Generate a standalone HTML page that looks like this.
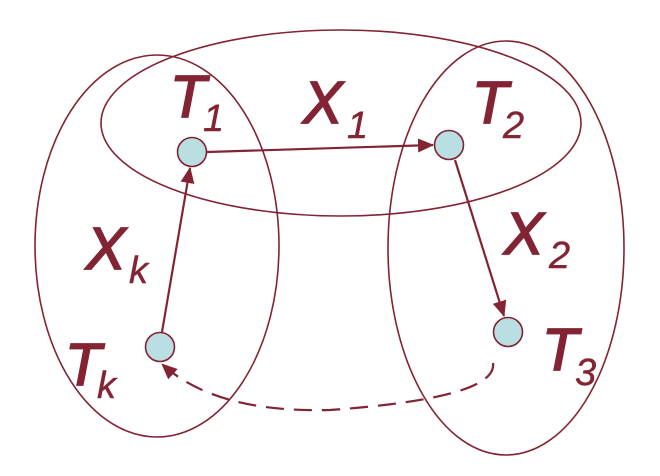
<!DOCTYPE html>
<html><head><style>
html,body{margin:0;padding:0;background:#fff;width:660px;height:476px;overflow:hidden}
svg text{font-family:"Liberation Sans",sans-serif;font-style:italic;fill:#822433}
.m{font-size:59px;stroke:#822433;stroke-width:1.8}
.s{font-size:38px;stroke:#822433;stroke-width:0.4}
</style></head><body>
<svg width="660" height="476" viewBox="0 0 660 476" xmlns="http://www.w3.org/2000/svg">
<defs>
<marker id="b" markerWidth="16" markerHeight="14" refX="15" refY="7" orient="auto" markerUnits="userSpaceOnUse" viewBox="0 0 16 14">
<path d="M0,0 L16,7 L0,14 Z" fill="#822433"/></marker>
</defs>
<g fill="none" stroke="#822433" stroke-width="1.6">
<ellipse cx="157" cy="246" rx="122" ry="191"/>
<ellipse cx="341" cy="123" rx="240" ry="93"/>
<ellipse cx="506" cy="248" rx="118" ry="207"/>
</g>
<g stroke="#822433" stroke-width="2.2" fill="none">
<line x1="207" y1="152" x2="433" y2="145" marker-end="url(#b)"/>
<line x1="162" y1="332" x2="190" y2="168" marker-end="url(#b)"/>
<line x1="455" y1="160" x2="504" y2="316" marker-end="url(#b)"/>
<path d="M493,363 Q498,398 330,410 Q215,413 162,364" stroke-dasharray="18,10" marker-end="url(#b)"/>
</g>
<g fill="#b9dfe2" stroke="#822433" stroke-width="1.6">
<circle cx="192" cy="152" r="14.5"/>
<circle cx="449" cy="145" r="14.5"/>
<circle cx="508" cy="332" r="14.5"/>
<circle cx="160" cy="347" r="14.5"/>
</g>
<text class="m" x="170" y="117">T</text><text class="s" x="203" y="131">1</text>
<text class="m" x="303" y="123">X</text><text class="s" x="347" y="138">1</text>
<text class="m" x="472" y="123">T</text><text class="s" x="503" y="138">2</text>
<text class="m" x="86" y="269">X</text><text class="s" x="129" y="283">k</text>
<text class="m" x="65" y="385">T</text><text class="s" x="97" y="398">k</text>
<text class="m" x="504" y="254">X</text><text class="s" x="549" y="268">2</text>
<text class="m" x="542" y="370">T</text><text class="s" x="575" y="385">3</text>
</svg>
</body></html>
